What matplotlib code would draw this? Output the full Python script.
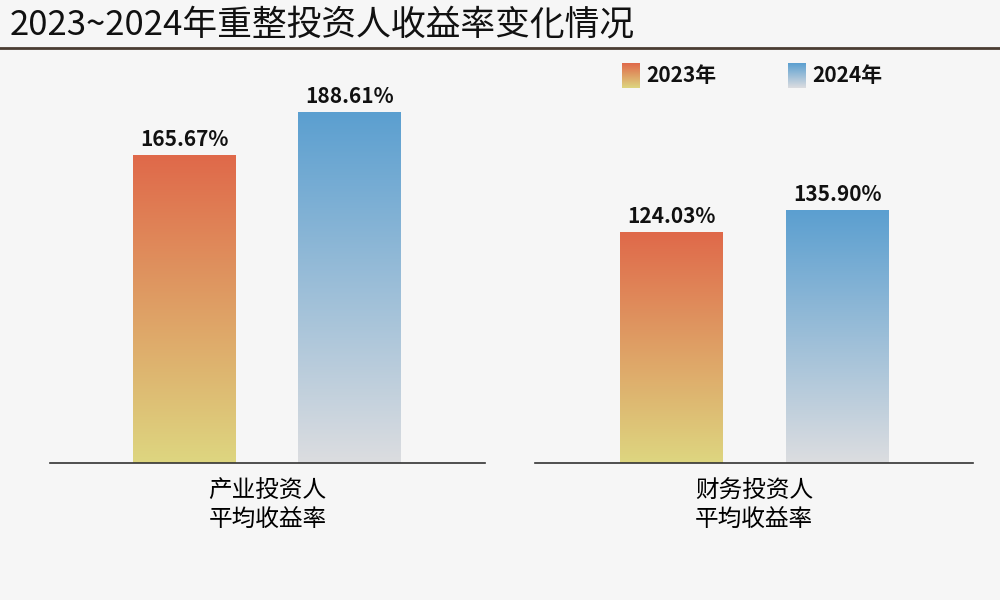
import matplotlib
matplotlib.use("Agg")
import matplotlib.pyplot as plt
import numpy as np
from matplotlib.colors import LinearSegmentedColormap
from matplotlib import font_manager

names = {f.name for f in font_manager.fontManager.ttflist}
cjk = [n for n in ["Noto Sans CJK SC", "Noto Sans CJK JP", "Noto Sans CJK TC",
                   "Noto Sans CJK KR", "Noto Sans SC"] if n in names]
if not cjk:
    cjk = [f.name for f in font_manager.fontManager.ttflist if "CJK" in f.name][:1]
plt.rcParams['font.family'] = cjk + ['DejaVu Sans']

title = "2023~2024年重整投资人收益率变化情况"
categories = ["产业投资人\n平均收益率", "财务投资人\n平均收益率"]
series_names = ["2023年", "2024年"]
values_2023 = [165.67, 124.03]
values_2024 = [188.61, 135.90]

W, H = 1000, 600
fig = plt.figure(figsize=(10, 6), dpi=100)
bg = "#f6f6f6"
fig.patch.set_facecolor(bg)

cm23 = LinearSegmentedColormap.from_list("c23", ["#ddd680", "#e0694a"])
cm24 = LinearSegmentedColormap.from_list("c24", ["#dcdde0", "#5b9fd0"])
grad = np.linspace(0, 1, 256).reshape(-1, 1)

def px(x0, y0, x1, y1):
    return [x0 / W, 1 - y1 / H, (x1 - x0) / W, (y1 - y0) / H]

ymax = (463 - 45) / 1.858
panels = [(50, 485, 133, 298), (535, 973, 620, 786)]
bw = 103
for i, (a0, a1, b23, b24) in enumerate(panels):
    ax = fig.add_axes(px(a0, 45, a1, 463))
    ax.set_facecolor(bg)
    ax.patch.set_alpha(0)
    for s in ["top", "right", "left"]:
        ax.spines[s].set_visible(False)
    ax.spines["bottom"].set_color("#333333")
    ax.spines["bottom"].set_linewidth(1.2)
    ax.set_yticks([])
    ax.set_xticks([(a0 + a1) / 2])
    ax.set_xticklabels([categories[i]], fontsize=17, linespacing=1.3)
    ax.tick_params(axis="x", length=0, pad=12)
    for x0, v, cm in [(b23, values_2023[i], cm23), (b24, values_2024[i], cm24)]:
        ax.imshow(grad, cmap=cm, origin="lower", aspect="auto",
                  extent=[x0, x0 + bw, 0, v], zorder=2)
        ax.text(x0 + bw / 2, v + 3, f"{v:.2f}%", ha="center", va="bottom",
                fontsize=15, fontweight="bold", color="#111111")
    ax.set_xlim(a0, a1)
    ax.set_ylim(0, ymax)

fig.text(10 / W, 1 - 25 / H, title, fontsize=25, va="center", ha="left", color="#111111")
fig.add_artist(plt.Line2D([0, 1], [1 - 48 / H] * 2, color="#4a3c32", lw=2))

for (lx, cm, name) in [(622, cm23, series_names[0]), (788, cm24, series_names[1])]:
    lax = fig.add_axes(px(lx, 63, lx + 18, 88))
    lax.imshow(grad, cmap=cm, origin="lower", aspect="auto")
    lax.axis("off")
    fig.text((lx + 24) / W, 1 - 76 / H, name, fontsize=15, fontweight="bold",
             va="center", ha="left", color="#111111")

fig.savefig("out.png", dpi=100, facecolor=bg)
